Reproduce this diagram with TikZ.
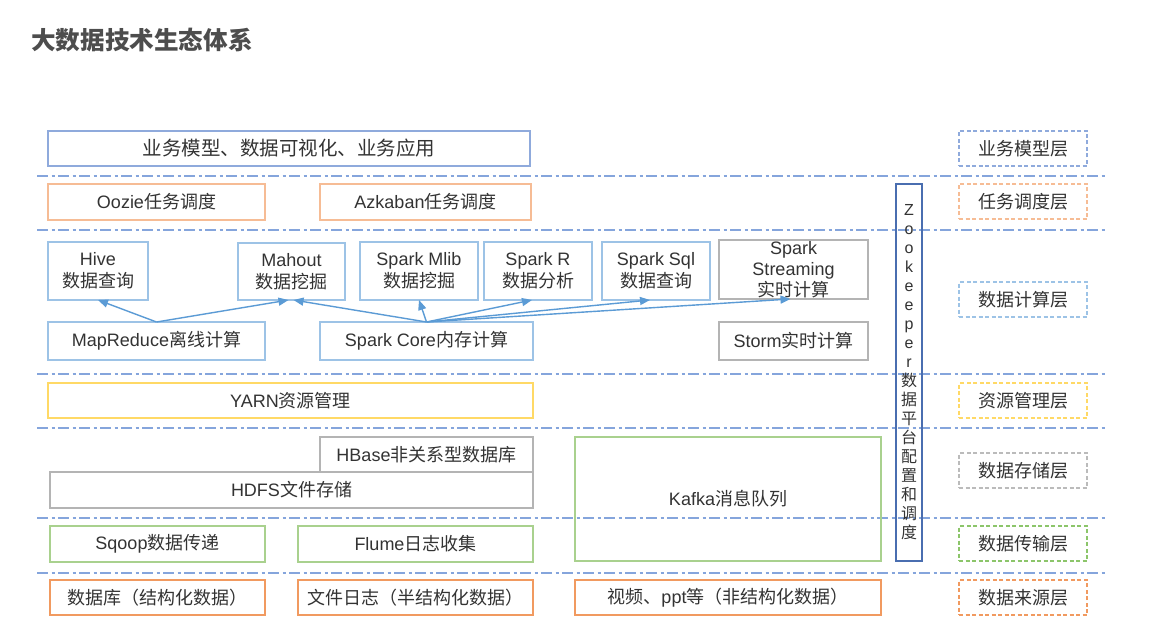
\documentclass[tikz,border=0pt]{standalone}
\usepackage{fontspec}
\setmainfont{Noto Sans CJK SC}
\newfontfamily\lf{Liberation Sans}
\usetikzlibrary{arrows.meta}
\definecolor{txt}{HTML}{333333}
\definecolor{ttl}{HTML}{4D4D4D}
\definecolor{modelblue}{HTML}{8FAADC}
\definecolor{skyblue}{HTML}{9DC3E6}
\definecolor{arrowblue}{HTML}{5B9BD5}
\definecolor{lineblue}{HTML}{85A5DC}
\definecolor{lorange}{HTML}{F6BC95}
\definecolor{dorange}{HTML}{F19A60}
\definecolor{yel}{HTML}{FFD966}
\definecolor{gry}{HTML}{B4B4B4}
\definecolor{grn}{HTML}{A9D18E}
\definecolor{dgrn}{HTML}{8CC56A}
\definecolor{zkblue}{HTML}{4A6EB0}
\tikzset{
  bx/.style={draw, line width=1.6pt, inner sep=0pt, outer sep=0pt, anchor=north west,
    align=center, text=txt, font=\fontsize{18}{22}\selectfont},
  lay/.style={bx, dash pattern=on 4pt off 2.5pt, line width=1.8pt,
    minimum width=128pt, minimum height=35pt},
  sepline/.style={draw=lineblue, line width=2.4pt, dash pattern=on 11pt off 3.5pt on 3pt off 3.5pt},
  arr/.style={draw=arrowblue, line width=1.4pt, -{Triangle[length=10pt,width=8pt]}},
}
\begin{document}
\begin{tikzpicture}[x=1pt,y=-1pt]
\useasboundingbox[fill=white] (0,0) rectangle (1161,639);

% title
\node[anchor=west, text=ttl, font=\fontsize{24.6}{28}\selectfont\bfseries, inner sep=0pt] (title) at (31,40) {大数据技术生态体系};

% separator lines
\foreach \yy in {176,230,374,428,518,573}
  \draw[sepline] (37,\yy) -- (1108,\yy);

% business layer
\node[bx, draw=modelblue, minimum width=482pt, minimum height=35pt, font=\fontsize{19.5}{22}\selectfont] (biz) at (48,131) {业务模型、数据可视化、业务应用};

% scheduling
\node[bx, draw=lorange, minimum width=217pt, minimum height=36pt] (oozie) at (48,184) {{\lf Oozie}任务调度};
\node[bx, draw=lorange, minimum width=211pt, minimum height=36pt] (azk) at (320,184) {{\lf Azkaban}任务调度};

% computing
\node[bx, draw=skyblue, minimum width=100pt, minimum height=58pt] (hive) at (48,242) {{\lf Hive}\\数据查询};
\node[bx, draw=skyblue, minimum width=107pt, minimum height=57pt] (mahout) at (238,243) {{\lf Mahout}\\数据挖掘};
\node[bx, draw=skyblue, minimum width=118pt, minimum height=58pt] (mlib) at (360,242) {{\lf Spark Mlib}\\数据挖掘};
\node[bx, draw=skyblue, minimum width=108pt, minimum height=58pt] (sparkr) at (484,242) {{\lf Spark R}\\数据分析};
\node[bx, draw=skyblue, minimum width=108pt, minimum height=58pt] (sql) at (602,242) {{\lf Spark Sql}\\数据查询};
\node[bx, draw=gry, minimum width=149pt, minimum height=59pt, font=\fontsize{18}{21}\selectfont] (stream) at (719,240) {{\lf Spark}\\{\lf Streaming}\\实时计算};
\node[bx, draw=skyblue, minimum width=217pt, minimum height=38pt] (mr) at (48,322) {{\lf MapReduce}离线计算};
\node[bx, draw=skyblue, minimum width=213pt, minimum height=38pt] (core) at (320,322) {{\lf Spark Core}内存计算};
\node[bx, draw=gry, minimum width=149pt, minimum height=38pt] (storm) at (719,322) {{\lf Storm}实时计算};

% resource
\node[bx, draw=yel, minimum width=485pt, minimum height=35pt] (yarn) at (48,383) {{\lf YARN}资源管理};

% storage
\node[bx, draw=gry, minimum width=213pt, minimum height=35pt] (hbase) at (320,437) {{\lf HBase}非关系型数据库};
\node[bx, draw=gry, minimum width=483pt, minimum height=36pt] (hdfs) at (50,472) {{\lf HDFS}文件存储};
\node[bx, draw=grn, minimum width=306pt, minimum height=124pt] (kafka) at (575,437) {{\lf Kafka}消息队列};

% transfer
\node[bx, draw=grn, minimum width=215pt, minimum height=36pt] (sqoop) at (50,526) {{\lf Sqoop}数据传递};
\node[bx, draw=grn, minimum width=235pt, minimum height=36pt] (flume) at (298,526) {{\lf Flume}日志收集};

% sources
\node[bx, draw=dorange, minimum width=215pt, minimum height=35pt] (db) at (50,580) {数据库（结构化数据）};
\node[bx, draw=dorange, minimum width=235pt, minimum height=35pt] (filelog) at (298,580) {文件日志（半结构化数据）};
\node[bx, draw=dorange, minimum width=306pt, minimum height=35pt] (video) at (575,580) {视频、{\lf ppt}等（非结构化数据）};

% zookeeper
\node[bx, draw=zkblue, line width=1.3pt, minimum width=26pt, minimum height=377pt, font=\fontsize{16}{19}\selectfont] (zk) at (896,184)
  {{\lf Z}\\{\lf o}\\{\lf o}\\{\lf k}\\{\lf e}\\{\lf e}\\{\lf p}\\{\lf e}\\{\lf r}\\数\\据\\平\\台\\配\\置\\和\\调\\度};

% layer labels
\node[lay, draw=modelblue] (l1) at (959,131) {业务模型层};
\node[lay, draw=lorange] (l2) at (959,184) {任务调度层};
\node[lay, draw=skyblue] (l3) at (959,282) {数据计算层};
\node[lay, draw=yel] (l4) at (959,383) {资源管理层};
\node[lay, draw=gry!90] (l5) at (959,453) {数据存储层};
\node[lay, draw=dgrn] (l6) at (959,526) {数据传输层};
\node[lay, draw=dorange] (l7) at (959,580) {数据来源层};

% arrows
\draw[arr] (mr.north) -- (hive.south);
\draw[arr] (mr.north) -- ([xshift=-3pt]mahout.south);
\draw[arr] (core.north) -- ([xshift=2pt]mahout.south);
\draw[arr] (core.north) -- (mlib.south);
\draw[arr] (core.north) -- ([xshift=-6pt]sparkr.south);
\draw[arr] (core.north) -- ([xshift=-6pt]sql.south);
\draw[arr] (core.north) -- ([xshift=-3pt]stream.south);
\end{tikzpicture}
\end{document}
